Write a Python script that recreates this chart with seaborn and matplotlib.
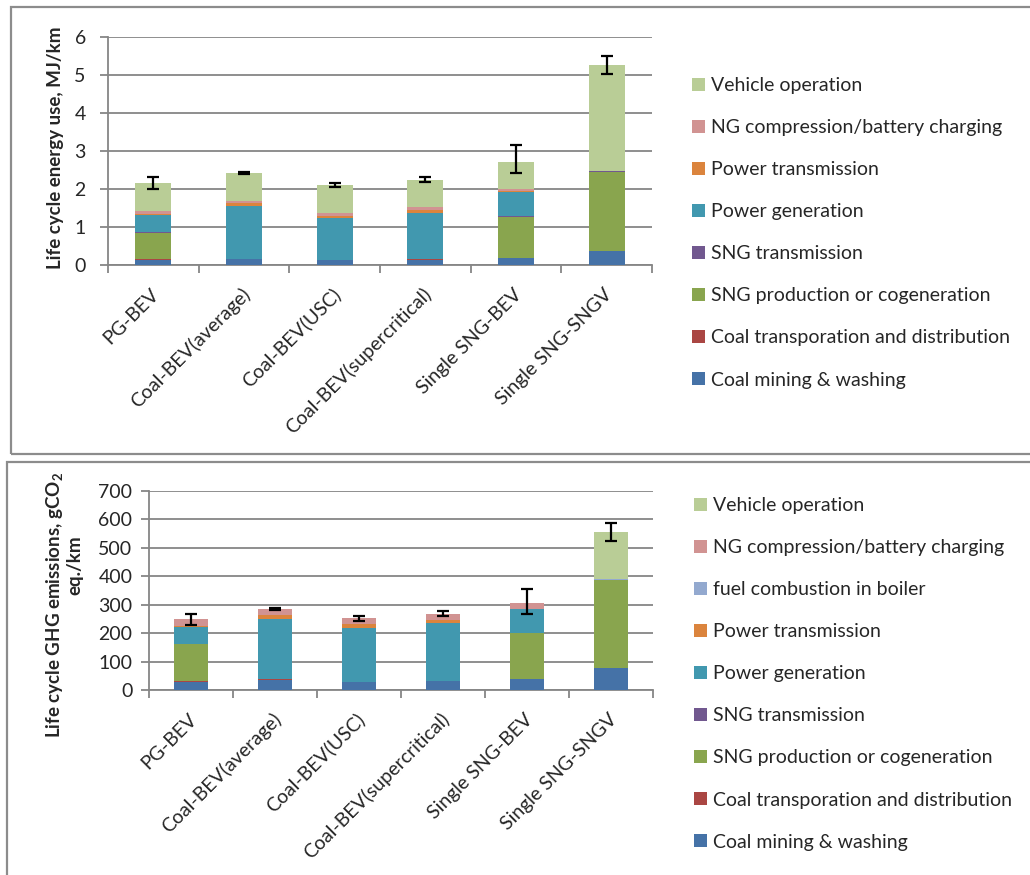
import numpy as np
import pandas as pd
import matplotlib
matplotlib.use("Agg")
import matplotlib.pyplot as plt
from matplotlib.patches import Rectangle, Patch
from matplotlib.transforms import ScaledTranslation
import seaborn as sns

# ---------------- data ----------------
pathways = ["PG-BEV", "Coal-BEV(average)", "Coal-BEV(USC)",
            "Coal-BEV(supercritical)", "Single SNG-BEV", "Single SNG-SNGV"]

# Life cycle energy use, MJ/km (stages listed bottom -> top of each stack)
energy_stages = ["Coal mining & washing", "Coal transporation and distribution",
                 "SNG production or cogeneration", "SNG transmission",
                 "Power generation", "Power transmission",
                 "NG compression/battery charging", "Vehicle operation"]
e_coal_mining = [0.14, 0.15, 0.13, 0.14, 0.18, 0.37]
e_coal_transport = [0.01, 0.02, 0.01, 0.02, 0.01, 0.01]
e_sng_production = [0.70, 0.00, 0.00, 0.00, 1.08, 2.07]
e_sng_transmission = [0.01, 0.00, 0.00, 0.00, 0.02, 0.02]
e_power_generation = [0.45, 1.39, 1.10, 1.22, 0.64, 0.00]
e_power_transmission = [0.02, 0.06, 0.06, 0.07, 0.01, 0.00]
e_ng_compression = [0.08, 0.07, 0.07, 0.08, 0.07, 0.01]
e_vehicle_operation = [0.74, 0.73, 0.73, 0.72, 0.71, 2.78]
e_err_low = [0.15, 0.02, 0.06, 0.07, 0.31, 0.24]
e_err_high = [0.16, 0.02, 0.06, 0.07, 0.44, 0.25]
e_ticks = [0, 1, 2, 3, 4, 5, 6]

# Life cycle GHG emissions, gCO2 eq./km
ghg_stages = ["Coal mining & washing", "Coal transporation and distribution",
              "SNG production or cogeneration", "SNG transmission",
              "Power generation", "Power transmission",
              "fuel combustion in boiler",
              "NG compression/battery charging", "Vehicle operation"]
g_coal_mining = [29, 35, 28, 30, 39, 77]
g_coal_transport = [1, 2, 1, 2, 1, 2]
g_sng_production = [132, 0, 0, 0, 161, 308]
g_sng_transmission = [1, 0, 0, 0, 1, 1]
g_power_generation = [60, 214, 188, 204, 82, 0]
g_power_transmission = [3, 13, 14, 11, 1, 0]
g_boiler = [0, 0, 0, 0, 0, 3]
g_ng_compression = [23, 22, 21, 22, 20, 0]
g_vehicle_operation = [0, 0, 0, 0, 0, 164]
g_err_low = [19, 3, 10, 10, 36, 30]
g_err_high = [19, 3, 10, 10, 50, 32]
g_ticks = [0, 100, 200, 300, 400, 500, 600, 700]

stage_colors = {
    "Coal mining & washing": "#4572A7",
    "Coal transporation and distribution": "#AA4643",
    "SNG production or cogeneration": "#89A54E",
    "SNG transmission": "#71588F",
    "Power generation": "#4198AF",
    "Power transmission": "#DB843D",
    "fuel combustion in boiler": "#93A9CF",
    "NG compression/battery charging": "#D19392",
    "Vehicle operation": "#B9CD96",
}

# ---------------- style ----------------
sns.set_theme(style="white")
plt.rcParams["font.family"] = ["Lato", "DejaVu Sans"]
plt.rcParams["mathtext.fontset"] = "custom"
plt.rcParams["mathtext.rm"] = "Lato"
plt.rcParams["mathtext.bf"] = "Lato:bold"
GRAY = "#868686"
FS = 14
FS_TITLE = 13.5

W, H = 1030, 875
fig = plt.figure(figsize=(W / 100, H / 100), dpi=100)


def px_box(left, top, right, bottom):
    return [left / W, 1 - bottom / H, (right - left) / W, (bottom - top) / H]


def stacked_panel(ax, stages, layers, err_low, err_high, ticks, label_pad):
    df = pd.DataFrame(dict(zip(stages, layers)), index=pathways)
    cum = df.cumsum(axis=1)
    # draw running totals from the top stage down so lower stages overlay
    for stage in reversed(stages):
        sns.barplot(x=pathways, y=cum[stage].values, color=stage_colors[stage],
                    width=0.4, saturation=1, linewidth=0, ax=ax, zorder=3)
    totals = cum[stages[-1]].values
    ax.errorbar(np.arange(len(pathways)), totals, yerr=[err_low, err_high],
                fmt="none", ecolor="black", elinewidth=1.6, capsize=4,
                capthick=1.6, zorder=5)
    ax.set_xlim(-0.5, len(pathways) - 0.5)
    ax.set_ylim(ticks[0], ticks[-1])
    ax.set_yticks(ticks)
    ax.yaxis.grid(True, color=GRAY, linewidth=1.3, zorder=0)
    ax.set_axisbelow(True)
    for s in ("top", "right"):
        ax.spines[s].set_visible(False)
    for s in ("left", "bottom"):
        ax.spines[s].set_color(GRAY)
        ax.spines[s].set_linewidth(1.3)
    ax.set_xlabel("")
    ax.set_ylabel("")
    # category separators as tick marks, names on minor ticks at centres
    ax.set_xticks(np.arange(-0.5, len(pathways), 1.0))
    ax.set_xticklabels([])
    ax.set_xticks(np.arange(len(pathways)), minor=True)
    ax.set_xticklabels(pathways, minor=True, rotation=45, ha="right",
                       va="center", rotation_mode="anchor", fontsize=FS)
    ax.tick_params(axis="x", which="major", length=6, width=1.3, color=GRAY,
                   direction="out", bottom=True)
    ax.tick_params(axis="x", which="minor", length=0, pad=19, bottom=True)
    ax.tick_params(axis="y", length=6, width=1.3, color=GRAY, direction="out",
                   left=True, labelsize=FS, pad=label_pad)
    shift = ScaledTranslation(3 / 100, 0, fig.dpi_scale_trans)
    for lab in ax.get_xticklabels(minor=True):
        lab.set_transform(lab.get_transform() + shift)


def legend_block(stages, left, top):
    handles = [Patch(facecolor=stage_colors[s], edgecolor="none") for s in reversed(stages)]
    fig.legend(handles, list(reversed(stages)), loc="upper left",
               bbox_to_anchor=(left / W, 1 - top / H), frameon=False,
               fontsize=FS, handlelength=0.65, handleheight=0.65,
               handletextpad=0.35, labelspacing=1.29, borderpad=0,
               borderaxespad=0)


# panel frames
fig.add_artist(Rectangle((11 / W, 1 - 454 / H), (1040 - 11) / W, (454 - 7) / H,
                         transform=fig.transFigure, fill=False,
                         edgecolor="#8c8c8c", linewidth=1.6))
fig.add_artist(Rectangle((7 / W, 1 - 890 / H), (1040 - 7) / W, (890 - 462) / H,
                         transform=fig.transFigure, fill=False,
                         edgecolor="#8c8c8c", linewidth=1.6))

# energy panel
ax1 = fig.add_axes(px_box(108, 37, 652, 265))
stacked_panel(ax1, energy_stages,
              [e_coal_mining, e_coal_transport, e_sng_production, e_sng_transmission,
               e_power_generation, e_power_transmission, e_ng_compression,
               e_vehicle_operation],
              e_err_low, e_err_high, e_ticks, label_pad=10)
fig.text(56 / W, 1 - 148 / H, "Life cycle energy use, MJ/km", rotation=90,
         ha="center", va="center", fontsize=FS_TITLE, fontweight="bold")
legend_block(energy_stages, 692, 77)

# GHG panel
ax2 = fig.add_axes(px_box(149, 491, 653, 690))
stacked_panel(ax2, ghg_stages,
              [g_coal_mining, g_coal_transport, g_sng_production, g_sng_transmission,
               g_power_generation, g_power_transmission, g_boiler,
               g_ng_compression, g_vehicle_operation],
              g_err_low, g_err_high, g_ticks, label_pad=6)
fig.text(55 / W, 1 - 605 / H, r"Life cycle GHG emissions, gCO$_\mathbf{2}$",
         rotation=90, ha="center", va="center", fontsize=FS_TITLE, fontweight="bold")
fig.text(75 / W, 1 - 565 / H, "eq./km", rotation=90, ha="center", va="center",
         fontsize=FS_TITLE, fontweight="bold")
legend_block(ghg_stages, 694, 497)

fig.savefig("out.png", dpi=100)
